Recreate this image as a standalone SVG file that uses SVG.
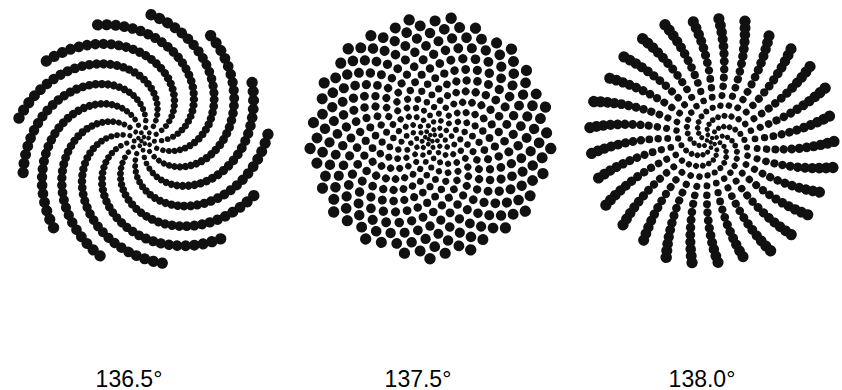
<svg xmlns="http://www.w3.org/2000/svg" width="842" height="390" viewBox="0 0 842 390">
<style>
.p{--n:calc(var(--t) + var(--o));--d:calc(pow(var(--n),var(--p))*var(--c));cx:calc(var(--d)*1px);r:calc((var(--s0) + var(--d)*var(--k))*1px);transform-origin:0 0;transform:rotate(calc(var(--n)*var(--a)*1deg));fill:#111}
.lbl{font-family:"Liberation Sans",Arial,sans-serif;font-size:23px;fill:#000;text-anchor:middle}
</style>
<defs>
<g id="ten"><circle class="p" style="--o:1"/><circle class="p" style="--o:2"/><circle class="p" style="--o:3"/><circle class="p" style="--o:4"/><circle class="p" style="--o:5"/><circle class="p" style="--o:6"/><circle class="p" style="--o:7"/><circle class="p" style="--o:8"/><circle class="p" style="--o:9"/><circle class="p" style="--o:10"/></g>
<g id="dots"><use href="#ten" style="--t:0"/><use href="#ten" style="--t:10"/><use href="#ten" style="--t:20"/><use href="#ten" style="--t:30"/><use href="#ten" style="--t:40"/><use href="#ten" style="--t:50"/><use href="#ten" style="--t:60"/><use href="#ten" style="--t:70"/><use href="#ten" style="--t:80"/><use href="#ten" style="--t:90"/><use href="#ten" style="--t:100"/><use href="#ten" style="--t:110"/><use href="#ten" style="--t:120"/><use href="#ten" style="--t:130"/><use href="#ten" style="--t:140"/><use href="#ten" style="--t:150"/><use href="#ten" style="--t:160"/><use href="#ten" style="--t:170"/><use href="#ten" style="--t:180"/><use href="#ten" style="--t:190"/><use href="#ten" style="--t:200"/><use href="#ten" style="--t:210"/><use href="#ten" style="--t:220"/><use href="#ten" style="--t:230"/><use href="#ten" style="--t:240"/><use href="#ten" style="--t:250"/><use href="#ten" style="--t:260"/><use href="#ten" style="--t:270"/><use href="#ten" style="--t:280"/><use href="#ten" style="--t:290"/><use href="#ten" style="--t:300"/><use href="#ten" style="--t:310"/><use href="#ten" style="--t:320"/><use href="#ten" style="--t:330"/><use href="#ten" style="--t:340"/><use href="#ten" style="--t:350"/><use href="#ten" style="--t:360"/><use href="#ten" style="--t:370"/><use href="#ten" style="--t:380"/><use href="#ten" style="--t:390"/></g>
</defs>
<g id="spiral-136-5" transform="translate(143,140) rotate(10)" style="--a:138.15;--p:0.7;--c:1.9;--s0:2.2;--k:0.028"><use href="#dots"/></g>
<g id="spiral-137-5" transform="translate(430,138)" style="--a:137.5;--p:0.7;--c:1.835;--s0:2.2;--k:0.029"><use href="#dots"/></g>
<g id="spiral-138-0" transform="translate(712,141)" style="--a:136.52;--p:0.7;--c:1.89;--s0:2.2;--k:0.028"><use href="#dots"/></g>
<g id="labels">
<text class="lbl" x="129" y="386.5">136.5°</text>
<text class="lbl" x="418" y="386.5">137.5°</text>
<text class="lbl" x="702" y="386.5">138.0°</text>
</g>
</svg>
